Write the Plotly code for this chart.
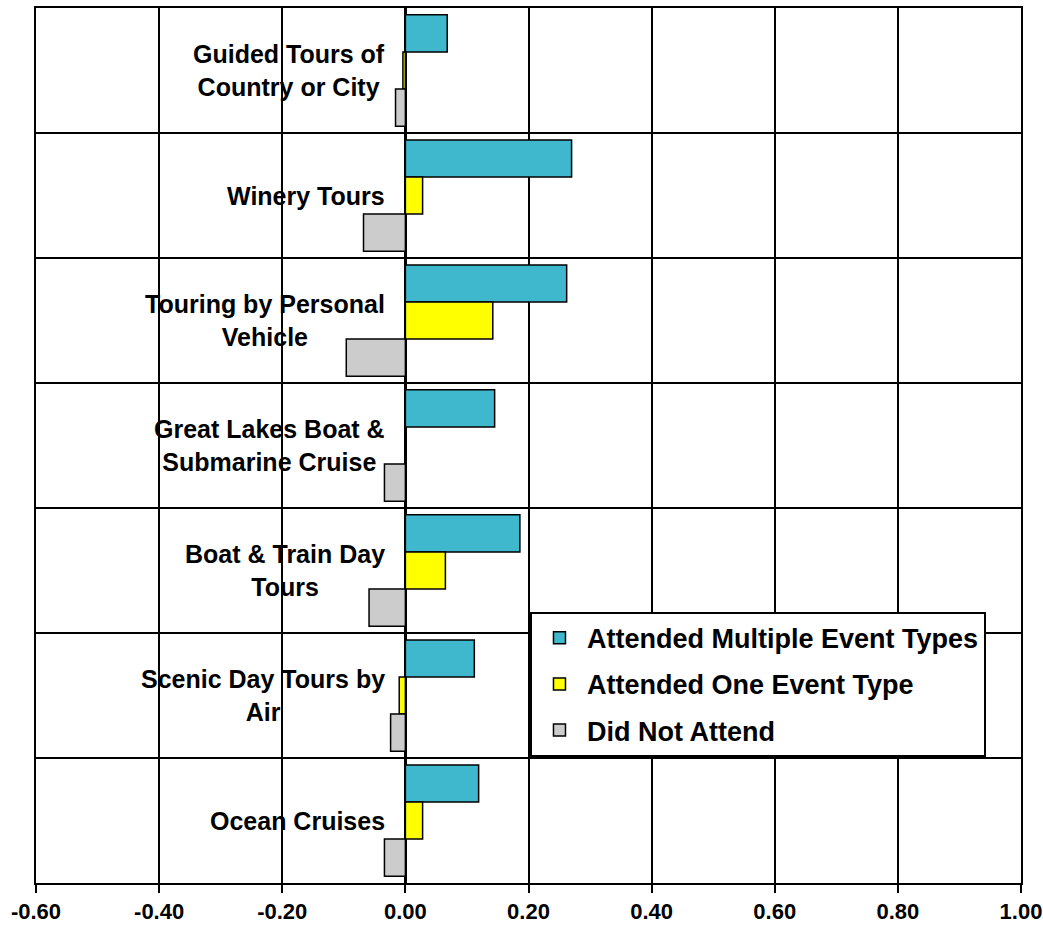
import plotly.graph_objects as go

categories = [
    "Guided Tours of<br>Country or City",
    "Winery Tours",
    "Touring by Personal<br>Vehicle",
    "Great Lakes Boat &<br>Submarine Cruise",
    "Boat & Train Day<br>Tours",
    "Scenic Day Tours by<br>Air",
    "Ocean Cruises",
]
multiple = [0.068, 0.270, 0.262, 0.145, 0.186, 0.112, 0.119]
one_type = [-0.004, 0.028, 0.142, 0.0, 0.065, -0.010, 0.028]
did_not = [-0.016, -0.068, -0.096, -0.034, -0.059, -0.024, -0.034]

series_names = ["Attended Multiple Event Types", "Attended One Event Type", "Did Not Attend"]
series_values = [multiple, one_type, did_not]
colors = ["#3FB8CE", "#FFFF00", "#CCCCCC"]

x_ticks = [-0.6, -0.4, -0.2, 0.0, 0.2, 0.4, 0.6, 0.8, 1.0]
x_tick_labels = ["-0.60", "-0.40", "-0.20", "0.00", "0.20", "0.40", "0.60", "0.80", "1.00"]

FONT = "Liberation Sans, Arial, sans-serif"

fig = go.Figure()
for name, vals, col in zip(series_names, series_values, colors):
    fig.add_trace(go.Bar(
        y=categories, x=vals, name=name, orientation="h",
        marker=dict(color=col, line=dict(color="black", width=1.5)),
        legendgroup=name,
    ))

for cat in categories:
    fig.add_annotation(
        x=0, y=cat, xref="x", yref="y", text=cat, showarrow=False,
        xanchor="right", yanchor="middle", align="center", xshift=-18,
        font=dict(family=FONT, size=25, color="black", weight="bold"),
    )

fig.update_layout(
    width=1043, height=928,
    margin=dict(l=36, r=22, t=8, b=45, autoexpand=False),
    paper_bgcolor="white", plot_bgcolor="white",
    barmode="group", bargap=0.11, bargroupgap=0,
    font=dict(family=FONT, color="black"),
    showlegend=True,
    legend=dict(
        x=0.5015, y=0.31, xanchor="left", yanchor="top",
        bgcolor="white", bordercolor="black", borderwidth=2,
        font=dict(family=FONT, size=27, color="black", weight="bold"),
        tracegroupgap=8, traceorder="grouped",
        itemwidth=45,
    ),
    xaxis=dict(
        range=[-0.6, 1.0], tickvals=x_ticks, ticktext=x_tick_labels,
        showgrid=True, gridcolor="black", gridwidth=1.5,
        zeroline=True, zerolinecolor="black", zerolinewidth=3,
        showline=True, linecolor="black", linewidth=2, mirror=True,
        ticks="outside", ticklen=8, tickwidth=1.5, tickcolor="black",
        tickfont=dict(family=FONT, size=22, color="black", weight="bold"),
        automargin=False, fixedrange=True,
    ),
    yaxis=dict(
        type="category", categoryorder="array", categoryarray=categories,
        autorange="reversed", tickson="boundaries",
        showgrid=True, gridcolor="black", gridwidth=1.5,
        showticklabels=False, ticks="",
        showline=True, linecolor="black", linewidth=2, mirror=True,
        automargin=False, fixedrange=True,
    ),
)

fig.write_html("out.html")
